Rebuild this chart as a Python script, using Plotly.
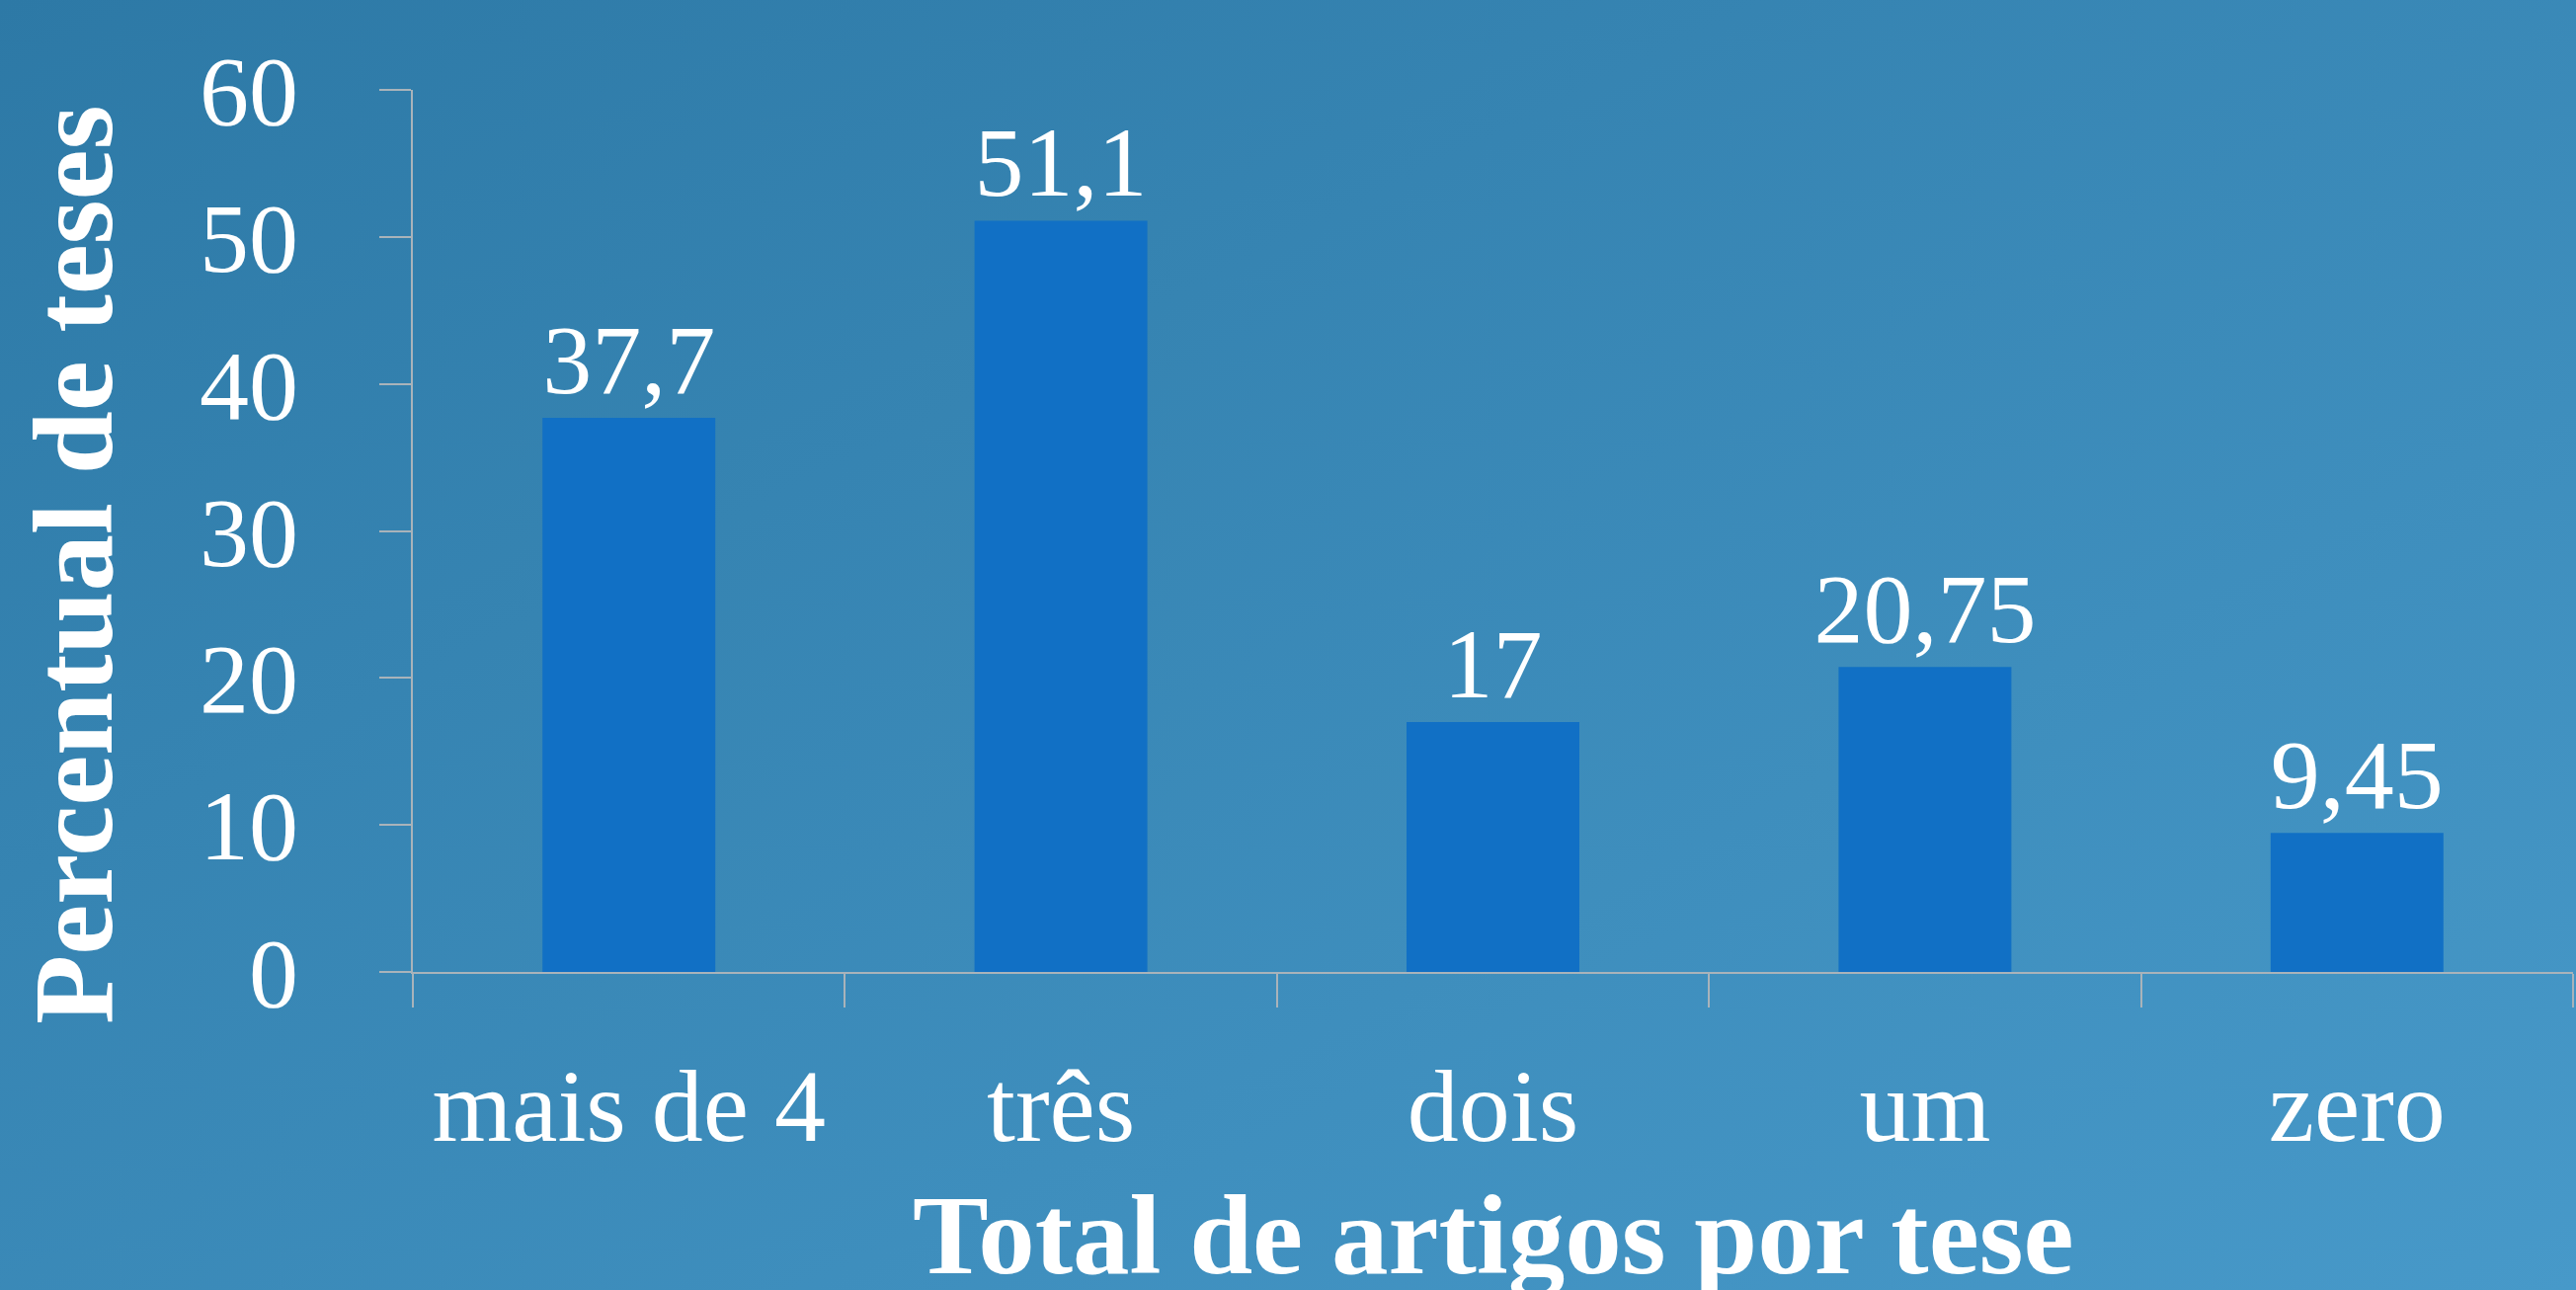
import base64
import plotly.graph_objects as go

categories = ["mais de 4", "três", "dois", "um", "zero"]
values = [37.7, 51.1, 17, 20.75, 9.45]
y_ticks = [0, 10, 20, 30, 40, 50, 60]
x_title = "Total de artigos por tese"
y_title = "Percentual de teses"

labels = [f"{v:g}".replace(".", ",") for v in values]

W, H = 2608, 1306
L, R, T, B = 418, 3, 91, 322
pw, ph = W - L - R, H - T - B

FONT = "Georgia, 'Liberation Serif', 'Times New Roman', serif"
AXC = "#a9b3ba"

svg = (
    '<svg xmlns="http://www.w3.org/2000/svg" width="100" height="100" preserveAspectRatio="none" viewBox="0 0 100 100">'
    '<defs><linearGradient id="g" x1="0" y1="0" x2="1" y2="1">'
    '<stop offset="0" stop-color="#2d79a6"/>'
    '<stop offset="1" stop-color="#4799c9"/>'
    '</linearGradient></defs>'
    '<rect x="0" y="0" width="100" height="100" fill="url(#g)"/></svg>'
)
src = "data:image/svg+xml;base64," + base64.b64encode(svg.encode()).decode()

fig = go.Figure(
    go.Bar(
        x=categories,
        y=values,
        text=labels,
        textposition="outside",
        constraintext="none",
        textfont=dict(family=FONT, size=100, color="white"),
        marker=dict(color="#1170c5", line=dict(width=0)),
        width=0.4,
        cliponaxis=False,
    )
)

fig.update_layout(
    width=W,
    height=H,
    margin=dict(l=L, r=R, t=T, b=B, pad=0),
    paper_bgcolor="#3a88b8",
    plot_bgcolor="rgba(0,0,0,0)",
    font=dict(family=FONT, color="white", size=100),
    showlegend=False,
    bargap=0.6,
    images=[
        dict(
            source=src,
            xref="paper",
            yref="paper",
            x=-L / pw,
            y=1 + T / ph,
            sizex=W / pw,
            sizey=H / ph,
            xanchor="left",
            yanchor="top",
            sizing="stretch",
            layer="below",
        )
    ],
    annotations=[
        dict(
            text=f"<b>{x_title}</b>",
            xref="paper",
            yref="paper",
            x=0.5,
            y=-(1250 - 984) / ph,
            xanchor="center",
            yanchor="middle",
            showarrow=False,
            font=dict(family=FONT, size=115, color="white"),
        ),
        dict(
            text=f"<b>{y_title}</b>",
            xref="paper",
            yref="paper",
            x=-(418 - 74) / pw,
            y=(984 - 572) / ph,
            xanchor="center",
            yanchor="middle",
            textangle=-90,
            showarrow=False,
            font=dict(family=FONT, size=115, color="white"),
        ),
    ],
)

fig.update_xaxes(
    type="category",
    showline=True,
    linecolor=AXC,
    linewidth=2,
    ticks="outside",
    tickson="boundaries",
    ticklen=34,
    tickwidth=2,
    tickcolor=AXC,
    showgrid=False,
    tickfont=dict(family=FONT, size=104, color="white"),
    ticklabelstandoff=44,
)

fig.update_yaxes(
    range=[0, 60],
    tickvals=y_ticks,
    showline=True,
    linecolor=AXC,
    linewidth=2,
    ticks="outside",
    ticklen=32,
    tickwidth=2,
    tickcolor=AXC,
    showgrid=False,
    zeroline=False,
    tickfont=dict(family=FONT, size=100, color="white"),
    ticklabelstandoff=62,
)

fig.write_html(
    "out.html",
    config={"displayModeBar": False},
    post_script="document.body.style.margin='0';document.body.style.overflow='hidden';",
)
